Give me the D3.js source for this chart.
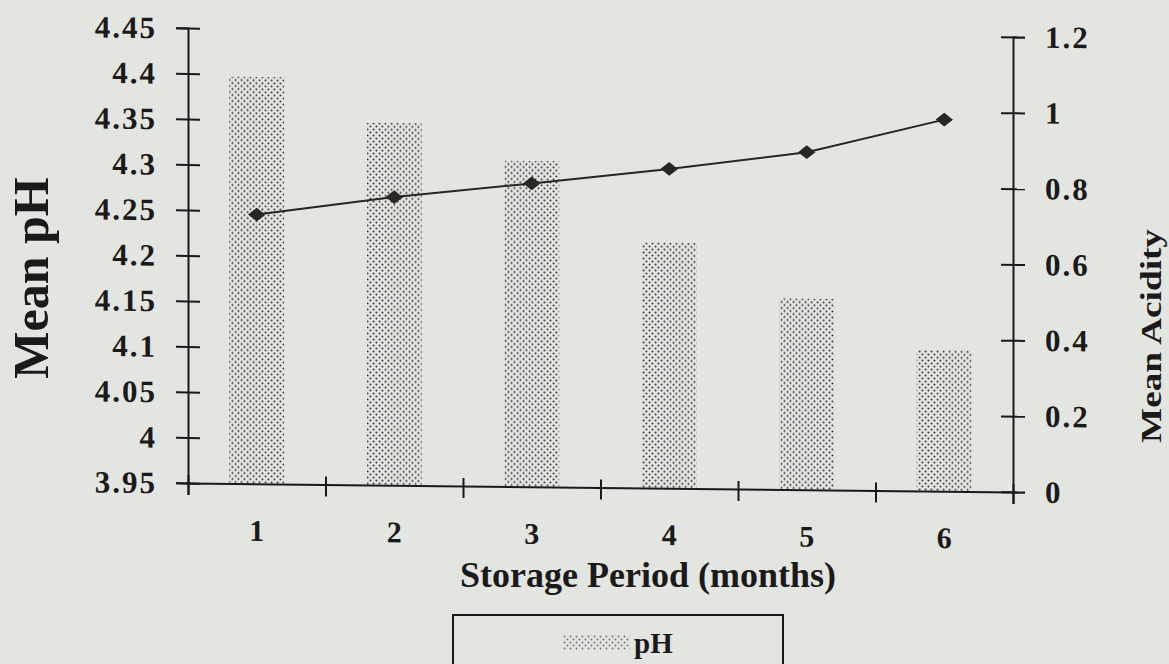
<!DOCTYPE html>
<html>
<head>
<meta charset="utf-8">
<script src="https://cdn.jsdelivr.net/npm/d3@7"></script>
<style>
  html, body { margin: 0; padding: 0; background: #e3e5e1; }
  svg { display: block; }
  .axis text { font-family: "Liberation Serif", "Times New Roman", serif; font-weight: bold; fill: #1c1a18; }
  .axis path, .axis line { stroke: #1c1a18; stroke-width: 2; }
  .title { font-family: "Liberation Serif", "Times New Roman", serif; font-weight: bold; fill: #1c1a18; }
</style>
</head>
<body>
<svg id="chart" width="1169" height="664"></svg>
<script>
// data
const months = [1, 2, 3, 4, 5, 6];
const phValues = [4.397, 4.348, 4.308, 4.22, 4.16, 4.105];
const acidityValues = [0.71, 0.76, 0.80, 0.842, 0.89, 0.98];
const phTicks = [3.95, 4, 4.05, 4.1, 4.15, 4.2, 4.25, 4.3, 4.35, 4.4, 4.45];
const acidityTicks = [0, 0.2, 0.4, 0.6, 0.8, 1, 1.2];
const legendItems = ["pH"];

const svg = d3.select("#chart");
const plotLeft = 188, plotRight = 1013, plotTop = 28, plotBottom = 483;

// dotted fill used by the bars
const defs = svg.append("defs");
const pat = defs.append("pattern")
  .attr("id", "dots")
  .attr("patternUnits", "userSpaceOnUse")
  .attr("width", 6)
  .attr("height", 6);
pat.append("circle").attr("cx", 1.5).attr("cy", 1.5).attr("r", 0.95).attr("fill", "#2e2c2a");
pat.append("circle").attr("cx", 4.5).attr("cy", 4.5).attr("r", 0.95).attr("fill", "#2e2c2a");

// the photo is slightly sheared, right side sits a bit lower
const g = svg.append("g")
  .attr("transform", `translate(${plotLeft},${plotBottom}) skewY(0.62) translate(${-plotLeft},${-plotBottom})`);

let xScale = d3.scaleBand()
  .domain(months)
  .range([plotLeft, plotRight])
  .padding(0);

let xEdges = d3.scaleLinear()
  .domain([0, months.length])
  .range([plotLeft, plotRight]);

let yPh = d3.scaleLinear()
  .domain([3.95, 4.45])
  .range([plotBottom, plotTop]);

let yAcid = d3.scaleLinear()
  .domain([0, 1.2])
  .range([plotBottom, plotTop]);

const barW = xScale.bandwidth() * 0.4;

// bars
g.append("g")
  .selectAll("rect")
  .data(months)
  .enter()
  .append("rect")
  .attr("x", d => xScale(d) + (xScale.bandwidth() - barW) / 2)
  .attr("width", barW)
  .attr("y", (d, i) => yPh(phValues[i]))
  .attr("height", (d, i) => plotBottom - yPh(phValues[i]))
  .style("fill", "url(#dots)");

// left axis
const yAxisL = g.append("g")
  .attr("class", "axis")
  .attr("transform", `translate(${plotLeft},0)`)
  .call(d3.axisLeft(yPh).tickValues(phTicks).tickSizeOuter(0).tickSize(12).tickPadding(21)
    .tickFormat(d => String(+d.toFixed(2))));
yAxisL.selectAll("line").attr("x1", 12).attr("x2", -12);
yAxisL.selectAll("text").style("font-size", "31px").style("letter-spacing", "2px").attr("dx", "2");

// right axis
const yAxisR = g.append("g")
  .attr("class", "axis")
  .attr("transform", `translate(${plotRight},0)`)
  .call(d3.axisRight(yAcid).tickValues(acidityTicks).tickSizeOuter(0).tickSize(12).tickPadding(20)
    .tickFormat(d => String(+d.toFixed(1))));
yAxisR.selectAll("line").attr("x1", -12).attr("x2", 12);
yAxisR.selectAll("text").style("font-size", "31px").style("letter-spacing", "2px");

// x axis: boundary ticks
const xAxisEdges = g.append("g")
  .attr("class", "axis")
  .attr("transform", `translate(0,${plotBottom})`)
  .call(d3.axisBottom(xEdges).ticks(months.length).tickSizeOuter(0).tickSize(12).tickFormat(""));
xAxisEdges.selectAll("line").attr("y1", -8).attr("y2", 12);

// x axis: month labels at band centres
const xAxisLabels = g.append("g")
  .attr("class", "axis")
  .attr("transform", `translate(0,${plotBottom})`)
  .call(d3.axisBottom(xScale).tickSize(0).tickPadding(57));
xAxisLabels.select(".domain").remove();
xAxisLabels.selectAll("text").style("font-size", "30px").attr("dy", "0");

// acidity line
const line = d3.line()
  .x((d, i) => xScale(months[i]) + xScale.bandwidth() / 2)
  .y(d => yAcid(d));

g.append("path")
  .datum(acidityValues)
  .attr("d", line)
  .attr("fill", "none")
  .attr("stroke", "#2a2622")
  .attr("stroke-width", 2);

g.append("g")
  .selectAll("path")
  .data(acidityValues)
  .enter()
  .append("path")
  .attr("d", d3.symbol(d3.symbolSquare, 105))
  .attr("transform", (d, i) =>
    `translate(${xScale(months[i]) + xScale.bandwidth() / 2},${yAcid(d)}) scale(1.2,0.95) rotate(45)`)
  .attr("fill", "#2a2622");

// axis titles
svg.append("text")
  .attr("class", "title")
  .attr("transform", "translate(48,278) rotate(-90)")
  .attr("text-anchor", "middle")
  .style("font-size", "50px")
  .text("Mean pH");

svg.append("text")
  .attr("class", "title")
  .attr("transform", "translate(1161,336) rotate(-90)")
  .attr("text-anchor", "middle")
  .attr("textLength", 214)
  .attr("lengthAdjust", "spacingAndGlyphs")
  .style("font-size", "29px")
  .text("Mean Acidity");

svg.append("text")
  .attr("class", "title")
  .attr("x", 648)
  .attr("y", 587)
  .attr("text-anchor", "middle")
  .style("font-size", "36px")
  .text("Storage Period (months)");

// legend (runs off the bottom of the picture)
const legend = svg.append("g").attr("transform", "translate(453,615)");
legend.append("rect")
  .attr("width", 330)
  .attr("height", 90)
  .attr("fill", "none")
  .attr("stroke", "#1c1a18")
  .attr("stroke-width", 2);

const items = legend.selectAll("g.item")
  .data(legendItems)
  .enter()
  .append("g")
  .attr("class", "item")
  .attr("transform", (d, i) => `translate(110,${20 + i * 40})`);

items.append("rect")
  .attr("width", 67)
  .attr("height", 15)
  .style("fill", "url(#dots)")
  .attr("opacity", 0.6);

items.append("text")
  .attr("class", "title")
  .attr("x", 71)
  .attr("y", 18)
  .style("font-size", "29px")
  .text(d => d);
</script>
</body>
</html>
